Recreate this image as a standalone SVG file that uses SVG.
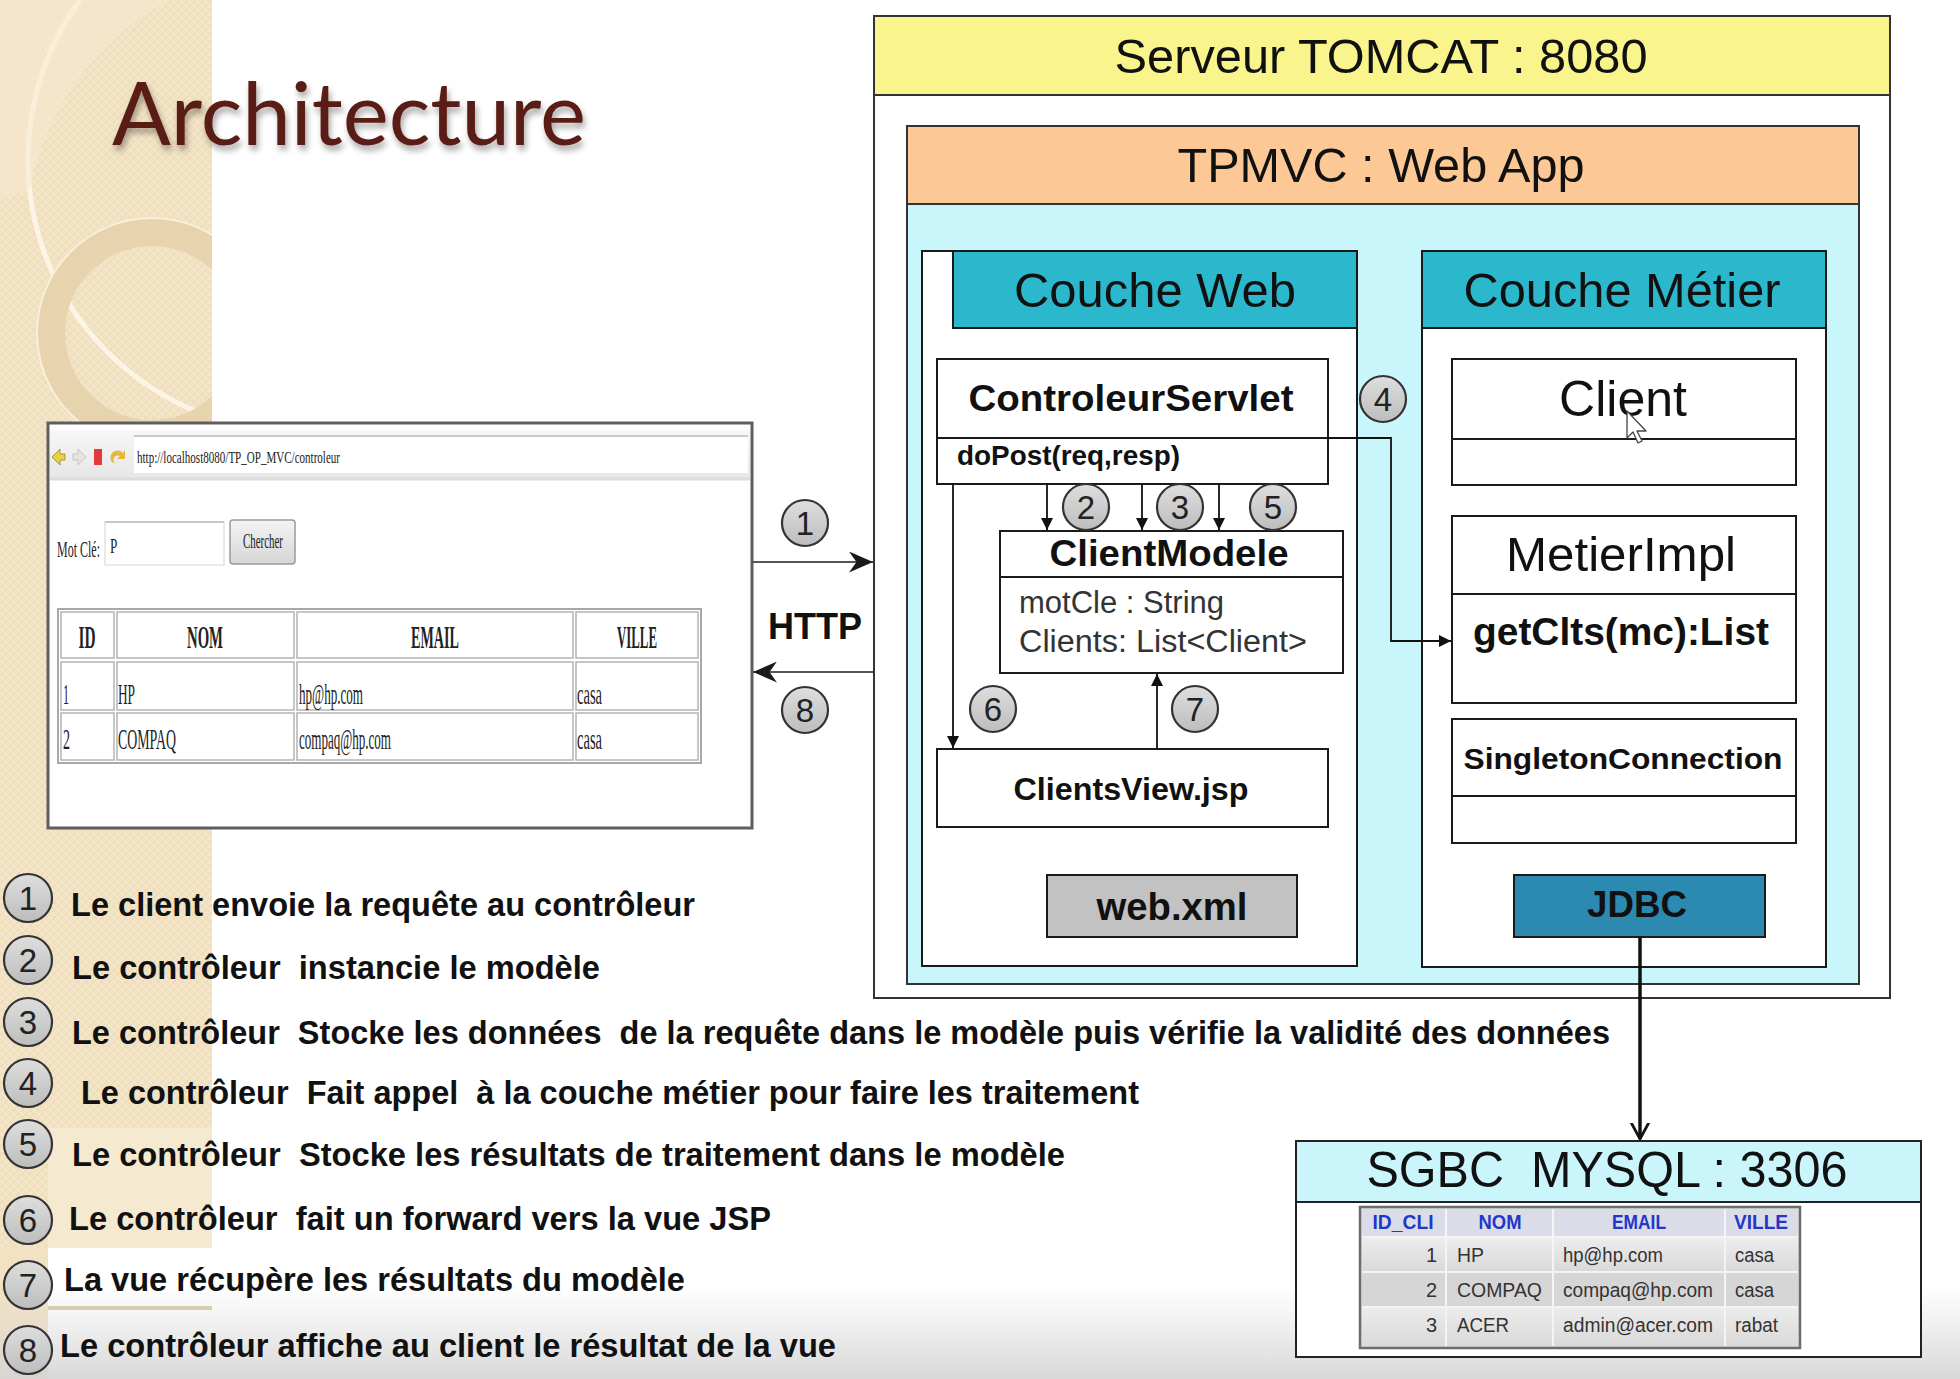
<svg xmlns="http://www.w3.org/2000/svg" width="1960" height="1379" viewBox="0 0 1960 1379">
  <defs>
    <style>
      .sans{font-family:"Liberation Sans",Arial,Helvetica,sans-serif}
      .narrow{font-family:"Liberation Sans Narrow","Liberation Sans",Arial,sans-serif;font-weight:bold;font-size:34px;fill:#111;white-space:pre}
      .serif{font-family:"Liberation Serif","Times New Roman",serif;fill:#222}
      .box{fill:#fff;stroke:#1a1a1a;stroke-width:2}
      .div{stroke:#1a1a1a;stroke-width:2}
      .hdr{font-size:48px;fill:#111;text-anchor:middle}
      .cls{font-weight:bold;fill:#111;text-anchor:middle}
      .wire{fill:none;stroke:#111;stroke-width:1.8}
      .num circle{fill:url(#gNum);stroke:#333;stroke-width:2.2}
      .num text{font-family:"Liberation Sans",Arial,sans-serif;font-size:33px;fill:#222;text-anchor:middle}
      .cell{fill:#fff;stroke:#b4b4b4;stroke-width:1.5}
      .dbh{font-family:"Liberation Sans",Arial,sans-serif;font-weight:bold;font-size:20px;fill:#2436c8;text-anchor:middle}
      .dbt{font-family:"Liberation Sans",Arial,sans-serif;font-size:20px;fill:#333}
    </style>
    <linearGradient id="gNum" x1="0" y1="0" x2="0" y2="1">
      <stop offset="0" stop-color="#dedede"/>
      <stop offset="1" stop-color="#bdbdbd"/>
    </linearGradient>
    <linearGradient id="gBottom" x1="0" y1="0" x2="0" y2="1">
      <stop offset="0" stop-color="#d9d9d9" stop-opacity="0"/>
      <stop offset="1" stop-color="#d4d4d4" stop-opacity="0.9"/>
    </linearGradient>
    <linearGradient id="gBar" x1="0" y1="0" x2="0" y2="1">
      <stop offset="0" stop-color="#f7f7f7"/>
      <stop offset="1" stop-color="#e6e6e6"/>
    </linearGradient>
    <linearGradient id="gBtn" x1="0" y1="0" x2="0" y2="1">
      <stop offset="0" stop-color="#f4f4f4"/>
      <stop offset="1" stop-color="#d6d6d6"/>
    </linearGradient>
    <linearGradient id="gRow" x1="0" y1="0" x2="0" y2="1">
      <stop offset="0" stop-color="#ececec"/>
      <stop offset="1" stop-color="#d9d9d9"/>
    </linearGradient>
    <pattern id="weave" width="8" height="8" patternUnits="userSpaceOnUse">
      <path d="M0,4L4,0M4,8L8,4" stroke="#d8c39b" stroke-width="1" opacity="0.35"/>
      <path d="M0,4L4,8M4,0L8,4" stroke="#fff6e4" stroke-width="1" opacity="0.4"/>
    </pattern>
    <filter id="shadow" x="-5%" y="-20%" width="115%" height="160%">
      <feDropShadow dx="2" dy="5" stdDeviation="3" flood-color="#000" flood-opacity="0.35"/>
    </filter>
    <clipPath id="stripClip">
      <rect x="0" y="0" width="212" height="1379"/>
    </clipPath>
    <marker id="tri" viewBox="0 0 10 10" refX="10" refY="5" markerWidth="12" markerHeight="12" markerUnits="userSpaceOnUse" orient="auto">
      <path d="M0,0L10,5L0,10z" fill="#111"/>
    </marker>
    <marker id="barb" viewBox="0 0 16 14" refX="16" refY="7" markerWidth="24" markerHeight="21" markerUnits="userSpaceOnUse" orient="auto">
      <path d="M0,0L16,7L0,14L5,7z" fill="#1a1a1a"/>
    </marker>
    <marker id="vee" viewBox="0 0 14 16" refX="13" refY="8" markerWidth="18" markerHeight="20" markerUnits="userSpaceOnUse" orient="auto">
      <path d="M0,1L13,8L0,15" fill="none" stroke="#111" stroke-width="2.2"/>
    </marker>
  </defs>

  <!-- slide background -->
  <rect width="1960" height="1379" fill="#fff"/>
  <g id="backdrop" clip-path="url(#stripClip)">
    <rect x="0" y="0" width="212" height="1248" fill="#f2e2c2"/>
    <rect x="0" y="1248" width="48" height="131" fill="#f2e2c2"/>
    <rect x="0" y="0" width="212" height="1248" fill="url(#weave)"/>
    <circle cx="300" cy="160" r="272" fill="none" stroke="#fcf5e6" stroke-width="5"/>
    <path d="M0,0H170A272,272 0 0 0 30,190L0,200z" fill="#f7ead0" opacity="0.6"/>
    <circle cx="152" cy="333" r="101" fill="none" stroke="#e7d4ae" stroke-width="28"/>
    <circle cx="152" cy="333" r="115" fill="none" stroke="#f8eedb" stroke-width="2"/>
    <rect x="48" y="1128" width="164" height="120" fill="#f7ecd6" opacity="0.7"/>
    <rect x="48" y="1306" width="164" height="4" fill="#dcc9a5"/>
  </g>
  <rect x="0" y="1285" width="1960" height="94" fill="url(#gBottom)"/>

  <!-- title -->
  <text id="title" x="112" y="145" font-family="Lato,'Open Sans',sans-serif" font-size="88" fill="#5a1d12" textLength="474" lengthAdjust="spacingAndGlyphs" filter="url(#shadow)">Architecture</text>

  <!-- browser client -->
  <g id="browser">
    <rect x="48" y="423" width="704" height="405" fill="#fff" stroke="#5e5e5e" stroke-width="3"/>
    <rect x="50" y="430" width="700" height="50" fill="url(#gBar)"/>
    <rect x="134" y="437" width="614" height="36" fill="#fff"/>
    <line x1="134" y1="436" x2="748" y2="436" stroke="#c9c9c9" stroke-width="2"/>
    <line x1="50" y1="479" x2="750" y2="479" stroke="#dcdcdc" stroke-width="3"/>
    <path d="M52,457l8,-8v5h5v6h-5v5z" fill="#e6d24a" stroke="#a89830" stroke-width="1"/>
    <path d="M86,457l-8,-8v5h-5v6h5v5z" fill="#e4e4e4" stroke="#c4c4c4" stroke-width="1"/>
    <rect x="94" y="449" width="8" height="16" fill="#e03a3a"/>
    <path d="M112,462a7,7 0 1 1 11,-9l2,-3v9h-8l3,-3a4,4 0 1 0 -4,8z" fill="#e8b83a"/>
    <text class="serif" x="137" y="463" font-size="17" textLength="203" lengthAdjust="spacingAndGlyphs">http://localhost8080/TP_OP_MVC/controleur</text>
    <text class="serif" transform="translate(57,557) scale(0.5,1)" font-size="24">Mot Clé:</text>
    <rect x="105" y="522" width="119" height="43" fill="#fff" stroke="#e2e2e2" stroke-width="1.5"/>
    <line x1="105" y1="522" x2="224" y2="522" stroke="#bdbdbd" stroke-width="1.5"/>
    <text class="serif" transform="translate(110,553) scale(0.6,1)" font-size="22">P</text>
    <rect x="230" y="520" width="65" height="44" rx="3" fill="url(#gBtn)" stroke="#9a9a9a" stroke-width="1.5"/>
    <text class="serif" x="263" y="548" font-size="22" text-anchor="middle" textLength="40" lengthAdjust="spacingAndGlyphs">Chercher</text>
    <rect x="58" y="609" width="643" height="154" fill="#fff" stroke="#a8a8a8" stroke-width="2"/>
    <rect class="cell" x="61" y="612" width="53" height="46"/>
    <rect class="cell" x="117" y="612" width="177" height="46"/>
    <rect class="cell" x="297" y="612" width="276" height="46"/>
    <rect class="cell" x="576" y="612" width="122" height="46"/>
    <rect class="cell" x="61" y="662" width="53" height="48"/>
    <rect class="cell" x="117" y="662" width="177" height="48"/>
    <rect class="cell" x="297" y="662" width="276" height="48"/>
    <rect class="cell" x="576" y="662" width="122" height="48"/>
    <rect class="cell" x="61" y="713" width="53" height="47"/>
    <rect class="cell" x="117" y="713" width="177" height="47"/>
    <rect class="cell" x="297" y="713" width="276" height="47"/>
    <rect class="cell" x="576" y="713" width="122" height="47"/>
    <g class="serif" font-size="32" font-weight="bold" text-anchor="middle">
      <text x="87" y="648" textLength="17" lengthAdjust="spacingAndGlyphs">ID</text>
      <text x="205" y="648" textLength="36" lengthAdjust="spacingAndGlyphs">NOM</text>
      <text x="435" y="648" textLength="48" lengthAdjust="spacingAndGlyphs">EMAIL</text>
      <text x="637" y="648" textLength="40" lengthAdjust="spacingAndGlyphs">VILLE</text>
    </g>
    <g class="serif" font-size="30">
      <text x="63" y="704" textLength="6" lengthAdjust="spacingAndGlyphs">1</text>
      <text x="118" y="704" textLength="17" lengthAdjust="spacingAndGlyphs">HP</text>
      <text x="299" y="704" textLength="64" lengthAdjust="spacingAndGlyphs">hp@hp.com</text>
      <text x="577" y="704" textLength="25" lengthAdjust="spacingAndGlyphs">casa</text>
      <text x="63" y="749" textLength="7" lengthAdjust="spacingAndGlyphs">2</text>
      <text x="118" y="749" textLength="58" lengthAdjust="spacingAndGlyphs">COMPAQ</text>
      <text x="299" y="749" textLength="92" lengthAdjust="spacingAndGlyphs">compaq@hp.com</text>
      <text x="577" y="749" textLength="25" lengthAdjust="spacingAndGlyphs">casa</text>
    </g>
  </g>

  <!-- HTTP exchange label -->
  <text id="http-label" class="sans" x="815" y="639" font-size="36" font-weight="bold" fill="#111" text-anchor="middle">HTTP</text>

  <!-- Tomcat server -->
  <g id="tomcat">
    <rect x="874" y="16" width="1016" height="982" fill="#fff" stroke="#333" stroke-width="2"/>
    <rect x="874" y="16" width="1016" height="79" fill="#f9f58c" stroke="#333" stroke-width="2"/>
    <text class="sans hdr" x="1381" y="73" font-size="50" textLength="533" lengthAdjust="spacingAndGlyphs">Serveur TOMCAT : 8080</text>
  </g>

  <!-- web application -->
  <g id="webapp">
    <rect x="907" y="126" width="952" height="858" fill="#c9f6fb" stroke="#333" stroke-width="2"/>
    <rect x="907" y="126" width="952" height="78" fill="#fcc996" stroke="#333" stroke-width="2"/>
    <text class="sans hdr" x="1381" y="182" textLength="407" lengthAdjust="spacingAndGlyphs">TPMVC : Web App</text>
  </g>

  <!-- web layer -->
  <g id="couche-web">
    <rect x="922" y="251" width="435" height="715" class="box"/>
    <rect x="953" y="251" width="404" height="77" fill="#2bb8cc" stroke="#1a1a1a" stroke-width="2"/>
    <text class="sans hdr" x="1155" y="307" textLength="282" lengthAdjust="spacingAndGlyphs">Couche Web</text>
  </g>

  <!-- business layer -->
  <g id="couche-metier">
    <rect x="1422" y="251" width="404" height="716" class="box"/>
    <rect x="1422" y="251" width="404" height="77" fill="#2bb8cc" stroke="#1a1a1a" stroke-width="2"/>
    <text class="sans hdr" x="1622" y="307" textLength="317" lengthAdjust="spacingAndGlyphs">Couche Métier</text>
  </g>

  <g id="controleur-servlet">
    <rect x="937" y="359" width="391" height="125" class="box"/>
    <line x1="937" y1="438" x2="1328" y2="438" class="div"/>
    <text class="sans cls" x="1131" y="411" font-size="37" textLength="325" lengthAdjust="spacingAndGlyphs">ControleurServlet</text>
    <text class="sans" x="957" y="465" font-size="28" font-weight="bold" fill="#111" textLength="223" lengthAdjust="spacingAndGlyphs">doPost(req,resp)</text>
  </g>

  <g id="client-modele">
    <rect x="1000" y="531" width="343" height="142" class="box"/>
    <line x1="1000" y1="577" x2="1343" y2="577" class="div"/>
    <text class="sans cls" x="1169" y="566" font-size="36" textLength="239" lengthAdjust="spacingAndGlyphs">ClientModele</text>
    <text class="sans" x="1019" y="613" font-size="31" fill="#333">motCle : String</text>
    <text class="sans" x="1019" y="652" font-size="31" fill="#333" textLength="288" lengthAdjust="spacingAndGlyphs">Clients: List&lt;Client&gt;</text>
  </g>

  <g id="clients-view">
    <rect x="937" y="749" width="391" height="78" class="box"/>
    <text class="sans cls" x="1131" y="800" font-size="32" textLength="235" lengthAdjust="spacingAndGlyphs">ClientsView.jsp</text>
  </g>

  <g id="web-xml">
    <rect x="1047" y="875" width="250" height="62" fill="#c2c2c2" stroke="#1a1a1a" stroke-width="2"/>
    <text class="sans cls" x="1172" y="920" font-size="38" textLength="151" lengthAdjust="spacingAndGlyphs">web.xml</text>
  </g>

  <g id="client">
    <rect x="1452" y="359" width="344" height="126" class="box"/>
    <line x1="1452" y1="439" x2="1796" y2="439" class="div"/>
    <text class="sans" x="1623" y="416" font-size="50" fill="#111" text-anchor="middle">Client</text>
    <!-- pointer resting on the class name -->
    <path d="M1627,411v27l6,-6l5,11l4,-2l-5,-10h9z" fill="#fff" stroke="#444" stroke-width="1.3" stroke-linejoin="round"/>
  </g>

  <g id="metier-impl">
    <rect x="1452" y="516" width="344" height="187" class="box"/>
    <line x1="1452" y1="594" x2="1796" y2="594" class="div"/>
    <text class="sans" x="1621" y="571" font-size="48" fill="#111" text-anchor="middle" textLength="230" lengthAdjust="spacingAndGlyphs">MetierImpl</text>
    <text class="sans cls" x="1621" y="645" font-size="39" textLength="296" lengthAdjust="spacingAndGlyphs">getClts(mc):List</text>
  </g>

  <g id="singleton-connection">
    <rect x="1452" y="719" width="344" height="124" class="box"/>
    <line x1="1452" y1="796" x2="1796" y2="796" class="div"/>
    <text class="sans cls" x="1623" y="769" font-size="30" textLength="319" lengthAdjust="spacingAndGlyphs">SingletonConnection</text>
  </g>

  <g id="jdbc">
    <rect x="1514" y="875" width="251" height="62" fill="#2c8ab0" stroke="#1a1a1a" stroke-width="2"/>
    <text class="sans cls" x="1637" y="917" font-size="37" fill="#0d1a22" textLength="100" lengthAdjust="spacingAndGlyphs">JDBC</text>
  </g>

  <!-- database -->
  <g id="sgbd-mysql">
    <rect x="1296" y="1141" width="625" height="216" fill="#fff" stroke="#222" stroke-width="2"/>
    <rect x="1296" y="1141" width="625" height="61" fill="#c9f5fb" stroke="#222" stroke-width="2"/>
    <text class="sans" x="1607" y="1187" font-size="50" fill="#111" text-anchor="middle" textLength="481" lengthAdjust="spacingAndGlyphs" style="white-space:pre">SGBC  MYSQL : 3306</text>
    <rect x="1360" y="1207" width="440" height="141" fill="#dcdcdc" stroke="#6c6c6c" stroke-width="2.5"/>
    <rect x="1362" y="1209" width="436" height="28" fill="#dadde8"/>
    <rect x="1362" y="1238" width="436" height="34" fill="url(#gRow)"/>
    <rect x="1362" y="1273" width="436" height="34" fill="#d6d6d6"/>
    <rect x="1362" y="1308" width="436" height="38" fill="url(#gRow)"/>
    <g stroke="#f4f4f4" stroke-width="2">
      <line x1="1446" y1="1209" x2="1446" y2="1346"/>
      <line x1="1553" y1="1209" x2="1553" y2="1346"/>
      <line x1="1725" y1="1209" x2="1725" y2="1346"/>
      <line x1="1362" y1="1237" x2="1798" y2="1237"/>
      <line x1="1362" y1="1272" x2="1798" y2="1272"/>
      <line x1="1362" y1="1307" x2="1798" y2="1307"/>
    </g>
    <text class="dbh" x="1403" y="1229" textLength="61" lengthAdjust="spacingAndGlyphs">ID_CLI</text>
    <text class="dbh" x="1500" y="1229" textLength="43" lengthAdjust="spacingAndGlyphs">NOM</text>
    <text class="dbh" x="1639" y="1229" textLength="54" lengthAdjust="spacingAndGlyphs">EMAIL</text>
    <text class="dbh" x="1761" y="1229" textLength="54" lengthAdjust="spacingAndGlyphs">VILLE</text>
    <g class="dbt">
      <text x="1437" y="1262" text-anchor="end">1</text>
      <text x="1457" y="1262" textLength="27" lengthAdjust="spacingAndGlyphs">HP</text>
      <text x="1563" y="1262" textLength="100" lengthAdjust="spacingAndGlyphs">hp@hp.com</text>
      <text x="1735" y="1262" textLength="39" lengthAdjust="spacingAndGlyphs">casa</text>
      <text x="1437" y="1297" text-anchor="end">2</text>
      <text x="1457" y="1297" textLength="85" lengthAdjust="spacingAndGlyphs">COMPAQ</text>
      <text x="1563" y="1297" textLength="150" lengthAdjust="spacingAndGlyphs">compaq@hp.com</text>
      <text x="1735" y="1297" textLength="39" lengthAdjust="spacingAndGlyphs">casa</text>
      <text x="1437" y="1332" text-anchor="end">3</text>
      <text x="1457" y="1332" textLength="52" lengthAdjust="spacingAndGlyphs">ACER</text>
      <text x="1563" y="1332" textLength="150" lengthAdjust="spacingAndGlyphs">admin@acer.com</text>
      <text x="1735" y="1332" textLength="43" lengthAdjust="spacingAndGlyphs">rabat</text>
    </g>
  </g>

  <!-- connectors -->
  <g id="connectors">
    <line x1="752" y1="562" x2="873" y2="562" stroke="#555" stroke-width="2" marker-end="url(#barb)"/>
    <line x1="873" y1="672" x2="753" y2="672" stroke="#555" stroke-width="2" marker-end="url(#barb)"/>
    <line class="wire" x1="1047" y1="484" x2="1047" y2="530" marker-end="url(#tri)"/>
    <line class="wire" x1="1142" y1="484" x2="1142" y2="530" marker-end="url(#tri)"/>
    <line class="wire" x1="1219" y1="484" x2="1219" y2="530" marker-end="url(#tri)"/>
    <line class="wire" x1="953" y1="484" x2="953" y2="748" marker-end="url(#tri)"/>
    <line class="wire" x1="1157" y1="749" x2="1157" y2="674" marker-end="url(#tri)"/>
    <path class="wire" d="M1328,438H1391V641H1451" marker-end="url(#tri)"/>
    <line x1="1640" y1="937" x2="1640" y2="1139" stroke="#111" stroke-width="3.5" marker-end="url(#vee)"/>
  </g>

  <!-- step markers on the diagram -->
  <g id="steps">
    <g class="num"><circle cx="805" cy="523" r="23"/><text x="805" y="535">1</text></g>
    <g class="num"><circle cx="805" cy="710" r="23"/><text x="805" y="722">8</text></g>
    <g class="num"><circle cx="1086" cy="507" r="23"/><text x="1086" y="519">2</text></g>
    <g class="num"><circle cx="1180" cy="507" r="23"/><text x="1180" y="519">3</text></g>
    <g class="num"><circle cx="1273" cy="507" r="23"/><text x="1273" y="519">5</text></g>
    <g class="num"><circle cx="1383" cy="399" r="23"/><text x="1383" y="411">4</text></g>
    <g class="num"><circle cx="993" cy="709" r="23"/><text x="993" y="721">6</text></g>
    <g class="num"><circle cx="1195" cy="709" r="23"/><text x="1195" y="721">7</text></g>
  </g>

  <!-- legend -->
  <g id="legend">
    <g class="num"><circle cx="28" cy="898" r="24"/><text x="28" y="910">1</text></g>
    <g class="num"><circle cx="28" cy="960" r="24"/><text x="28" y="972">2</text></g>
    <g class="num"><circle cx="28" cy="1022" r="24"/><text x="28" y="1034">3</text></g>
    <g class="num"><circle cx="28" cy="1083" r="24"/><text x="28" y="1095">4</text></g>
    <g class="num"><circle cx="28" cy="1144" r="24"/><text x="28" y="1156">5</text></g>
    <g class="num"><circle cx="28" cy="1220" r="24"/><text x="28" y="1232">6</text></g>
    <g class="num"><circle cx="28" cy="1285" r="24"/><text x="28" y="1297">7</text></g>
    <g class="num"><circle cx="28" cy="1350" r="24"/><text x="28" y="1362">8</text></g>
    <text class="narrow" x="71" y="916" textLength="624" lengthAdjust="spacingAndGlyphs">Le client envoie la requête au contrôleur</text>
    <text class="narrow" x="72" y="979" textLength="528" lengthAdjust="spacingAndGlyphs">Le contrôleur  instancie le modèle</text>
    <text class="narrow" x="72" y="1044" textLength="1538" lengthAdjust="spacingAndGlyphs">Le contrôleur  Stocke les données  de la requête dans le modèle puis vérifie la validité des données</text>
    <text class="narrow" x="81" y="1104" textLength="1058" lengthAdjust="spacingAndGlyphs">Le contrôleur  Fait appel  à la couche métier pour faire les traitement</text>
    <text class="narrow" x="72" y="1166" textLength="993" lengthAdjust="spacingAndGlyphs">Le contrôleur  Stocke les résultats de traitement dans le modèle</text>
    <text class="narrow" x="69" y="1230" textLength="702" lengthAdjust="spacingAndGlyphs">Le contrôleur  fait un forward vers la vue JSP</text>
    <text class="narrow" x="64" y="1291" textLength="621" lengthAdjust="spacingAndGlyphs">La vue récupère les résultats du modèle</text>
    <text class="narrow" x="60" y="1357" textLength="776" lengthAdjust="spacingAndGlyphs">Le contrôleur affiche au client le résultat de la vue</text>
  </g>
</svg>
